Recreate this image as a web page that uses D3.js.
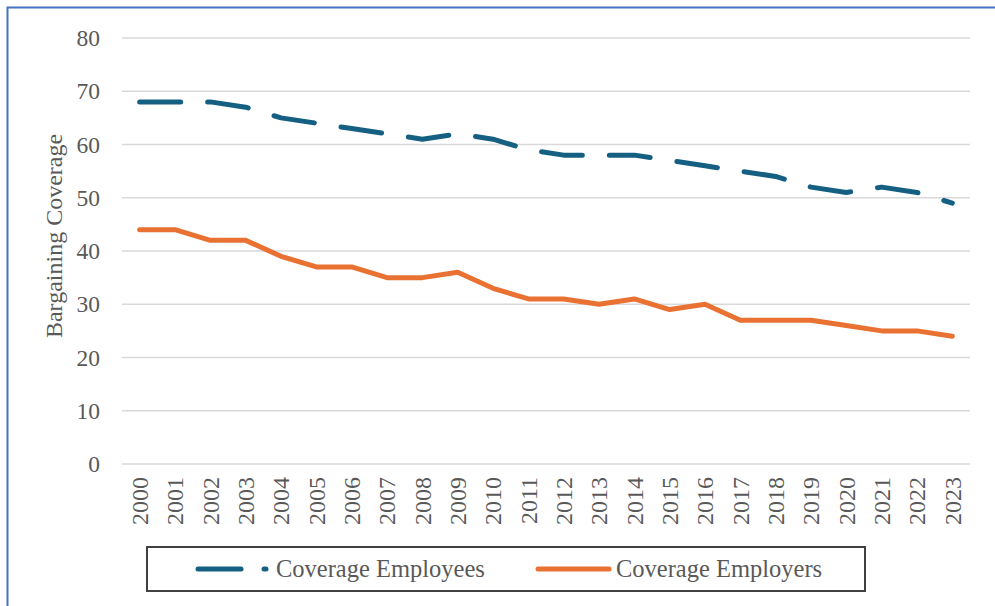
<!DOCTYPE html>
<html><head><meta charset="utf-8">
<script src="https://cdn.jsdelivr.net/npm/d3@7"></script>
<style>body{margin:0;background:#fff}svg{display:block}
svg text{font-family:"Liberation Serif","Times New Roman",serif !important;}</style>
</head><body>
<svg id="c" width="995" height="606"></svg>
<script>
const years = ["2000","2001","2002","2003","2004","2005","2006","2007","2008","2009","2010","2011","2012","2013","2014","2015","2016","2017","2018","2019","2020","2021","2022","2023"];
const employees = [68,68,68,67,65,64,63,62,61,62,61,59,58,58,58,57,56,55,54,52,51,52,51,49];
const employers = [44,44,42,42,39,37,37,35,35,36,33,31,31,30,31,29,30,27,27,27,26,25,25,24];
const yTicks = [0,10,20,30,40,50,60,70,80];
const seriesNames = ["Coverage Employees","Coverage Employers"];

const svg = d3.select("#c");
const textCol = "#595959";

svg.append("rect").attr("x",7.5).attr("y",7.5).attr("width",1000).attr("height",1000)
  .attr("fill","none").attr("stroke","#4472C4").attr("stroke-width",2);

const x = d3.scaleBand().domain(years).range([122,970]);
const y = d3.scaleLinear().domain([0,80]).range([464,38]);

// gridlines
svg.append("g").selectAll("line").data(yTicks).join("line")
  .attr("x1",122).attr("x2",970).attr("y1",d=>y(d)).attr("y2",d=>y(d))
  .attr("stroke","#d9d9d9").attr("stroke-width",1.5);

// y axis
const ya = svg.append("g").attr("transform","translate(122,0)")
  .call(d3.axisLeft(y).tickValues(yTicks).tickSize(0).tickPadding(22));
ya.select(".domain").remove();
ya.selectAll("text").attr("font-size",23.5).attr("fill",textCol);

// x axis
const xa = svg.append("g").attr("transform","translate(0,464)")
  .call(d3.axisBottom(x).tickSize(0));
xa.select(".domain").remove();
xa.selectAll("text").attr("font-size",24).attr("fill",textCol)
  .attr("transform","rotate(-90)").attr("text-anchor","end")
  .attr("x",-13).attr("y",0).attr("dy","0.35em");

// y title
svg.append("text").attr("transform","translate(62,236) rotate(-90)")
  .attr("text-anchor","middle").attr("font-size",24)
  .attr("fill",textCol).text("Bargaining Coverage");

const line = d3.line().x((d,i)=>x(years[i])+x.bandwidth()/2).y(d=>y(d));

svg.append("path").datum(employers).attr("d",line).attr("fill","none")
  .attr("stroke","#E97132").attr("stroke-width",5).attr("stroke-linejoin","round").attr("stroke-linecap","round");
svg.append("path").datum(employees).attr("d",line).attr("fill","none")
  .attr("stroke","#156082").attr("stroke-width",5).attr("stroke-linejoin","round")
  .attr("stroke-linecap","round").attr("stroke-dasharray","41,27");

// legend
const lg = svg.append("g");
lg.append("rect").attr("x",147).attr("y",547).attr("width",718).attr("height",44)
  .attr("fill","#fff").attr("stroke","#404040").attr("stroke-width",2);
lg.append("line").attr("x1",198).attr("x2",241).attr("y1",569).attr("y2",569)
  .attr("stroke","#156082").attr("stroke-width",5).attr("stroke-linecap","round");
lg.append("line").attr("x1",264).attr("x2",266).attr("y1",569).attr("y2",569)
  .attr("stroke","#156082").attr("stroke-width",5).attr("stroke-linecap","round");
lg.append("text").attr("x",276).attr("y",577).attr("font-size",24.5)
  .attr("fill",textCol).text(seriesNames[0]);
lg.append("line").attr("x1",538).attr("x2",609).attr("y1",569).attr("y2",569)
  .attr("stroke","#E97132").attr("stroke-width",5).attr("stroke-linecap","round");
lg.append("text").attr("x",616).attr("y",577).attr("font-size",24.5)
  .attr("fill",textCol).text(seriesNames[1]);
</script>
</body></html>
